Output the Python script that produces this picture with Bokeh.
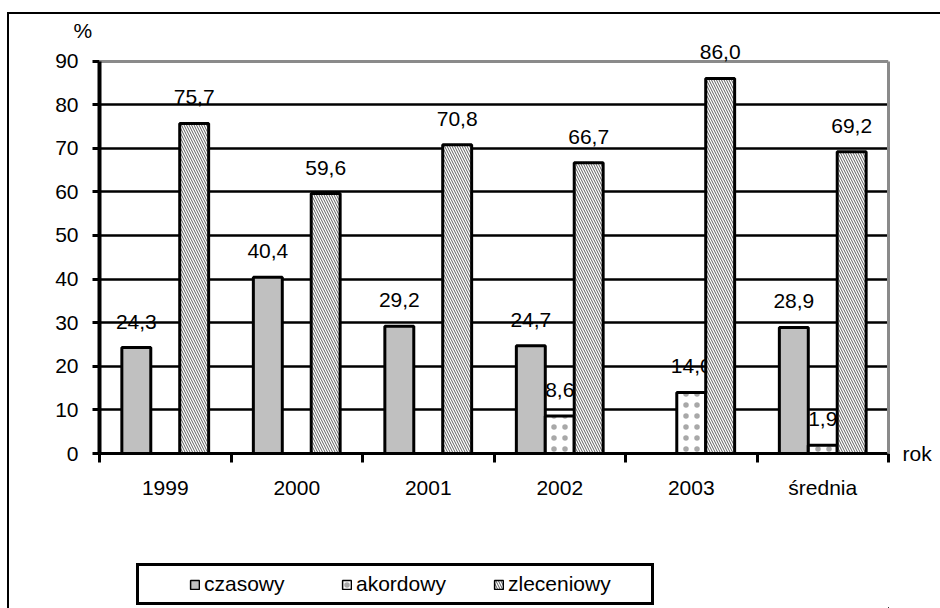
import numpy as np
from bokeh.plotting import figure
from bokeh.layouts import column
from bokeh.models import (ColumnDataSource, FixedTicker, Legend, LegendItem, Range1d,
                          LinearAxis, Grid)
from bokeh.core.properties import value
from bokeh.embed import file_html
from bokeh.resources import INLINE

# ---- data ----
categories = ["1999", "2000", "2001", "2002", "2003", "średnia"]
czasowy = [24.3, 40.4, 29.2, 24.7, 0.0, 28.9]
akordowy = [0.0, 0.0, 0.0, 8.6, 14.0, 1.9]
zleceniowy = [75.7, 59.6, 70.8, 66.7, 86.0, 69.2]
series_names = ["czasowy", "akordowy", "zleceniowy"]
y_ticks = [0, 10, 20, 30, 40, 50, 60, 70, 80, 90]
y_label = "%"
x_label = "rok"

FONT = "Liberation Sans"
FS = "21px"
YMAX = 90
W = 931

p = figure(width=W, height=531, output_backend="svg", toolbar_location=None,
           x_range=Range1d(0, len(categories)), y_range=Range1d(0, 97),
           min_border_left=90, min_border_right=52, min_border_top=16, min_border_bottom=92,
           background_fill_color="white", border_fill_color="white")
p.outline_line_color = None

centers = np.arange(len(categories)) + 0.5
bw = 0.22
offsets = [-bw, 0.0, bw]
series = [czasowy, akordowy, zleceniowy]
styles = [
    dict(fill_color="#c0c0c0"),
    dict(fill_color="white", hatch_pattern="dot", hatch_color="#a8a8a8", hatch_scale=11, hatch_weight=1.2),
    dict(fill_color="white", hatch_pattern="left_diagonal_line", hatch_color="#333333", hatch_scale=5, hatch_weight=0.8),
]

p.xgrid.visible = False
p.ygrid.ticker = FixedTicker(ticks=y_ticks[1:-1])
p.ygrid.grid_line_color = "black"
p.ygrid.grid_line_width = 2.5
p.add_layout(Grid(dimension=1, ticker=FixedTicker(ticks=[YMAX]), grid_line_color="#8a8a8a",
                  grid_line_width=3))

for vals, off, st in zip(series, offsets, styles):
    xs = [c + off for c, v in zip(centers, vals) if v > 0]
    vs = [v for v in vals if v > 0]
    src = ColumnDataSource(dict(x=xs, top=vs, lab=[f"{v:.1f}".replace(".", ",") for v in vs]))
    p.vbar(x="x", top="top", bottom=0, width=bw, source=src, line_color="black", line_width=3, **st)
    p.text(x="x", y="top", text="lab", source=src, text_align="center", text_baseline="middle",
           y_offset=-26, text_font=value(FONT), text_font_size=value(FS), text_color="black")

# x axis
xa = p.xaxis[0]
xa.ticker = FixedTicker(ticks=list(centers), minor_ticks=list(range(len(categories) + 1)))
xa.major_label_overrides = {float(c): n for c, n in zip(centers, categories)}
xa.major_tick_line_color = None
xa.major_tick_out = 0
xa.major_tick_in = 0
xa.minor_tick_out = 9
xa.minor_tick_in = 0
xa.minor_tick_line_color = "black"
xa.minor_tick_line_width = 3
xa.axis_line_color = "black"
xa.axis_line_width = 3
xa.major_label_standoff = 13
xa.major_label_text_font = FONT
xa.major_label_text_font_size = FS
xa.major_label_text_color = "black"

# y axis
ya = p.yaxis[0]
ya.ticker = FixedTicker(ticks=y_ticks)
ya.bounds = (0, YMAX)
ya.major_tick_out = 7
ya.major_tick_in = 0
ya.major_tick_line_width = 3
ya.major_tick_line_color = "black"
ya.minor_tick_line_color = None
ya.axis_line_color = "black"
ya.axis_line_width = 4
ya.major_label_standoff = 14
ya.major_label_text_font = FONT
ya.major_label_text_font_size = FS
ya.major_label_text_color = "black"
ya.axis_label = y_label
ya.axis_label_orientation = "horizontal"
ya.axis_label_align = "end"
ya.axis_label_standoff = -40
ya.axis_label_text_font = FONT
ya.axis_label_text_font_size = FS
ya.axis_label_text_font_style = "normal"
ya.axis_label_text_color = "black"

# right border line + "rok"
ra = LinearAxis(ticker=FixedTicker(ticks=[]), bounds=(0, YMAX), axis_line_color="#8a8a8a",
                axis_line_width=3, major_tick_line_color=None, minor_tick_line_color=None,
                axis_label=x_label, axis_label_orientation="horizontal", axis_label_align="start",
                axis_label_standoff=14, axis_label_text_font=FONT, axis_label_text_font_size=FS,
                axis_label_text_font_style="normal", axis_label_text_color="black",
                axis_label_text_baseline="top")
p.add_layout(ra, "right")

# legend strip (proxy renderers placed outside the visible ranges, same data and styles)
pl = figure(width=W, height=63, output_backend="svg", toolbar_location=None,
            x_range=Range1d(-200, -199), y_range=Range1d(500, 501), min_border=0,
            background_fill_color="white", border_fill_color="white")
pl.outline_line_color = None
pl.axis.visible = False
pl.grid.visible = False
proxies = []
for vals, off, st in zip(series, offsets, styles):
    proxies.append(pl.vbar(x=list(centers + off), top=vals, width=bw, line_color="black",
                           line_width=1.5, **st))
legend = Legend(items=[LegendItem(label=n, renderers=[r]) for n, r in zip(series_names, proxies)],
                orientation="horizontal", location=(37, 3), border_line_color="black",
                border_line_alpha=1, border_line_width=3, padding=6, spacing=0, label_width=137,
                glyph_width=11, glyph_height=11, label_standoff=4, label_text_font=FONT,
                label_text_font_size=FS, label_text_color="black", background_fill_color="white",
                background_fill_alpha=1, margin=0,
                title="\u00a0", title_location="left", title_text_font_size="2px",
                title_standoff=42)
pl.add_layout(legend)

layout = column(p, pl, spacing=0,
                styles={"border-left": "2px solid black", "border-top": "2px solid black",
                        "margin-top": "12px", "margin-left": "7px"})

open("out.html", "w").write(file_html(layout, INLINE))
